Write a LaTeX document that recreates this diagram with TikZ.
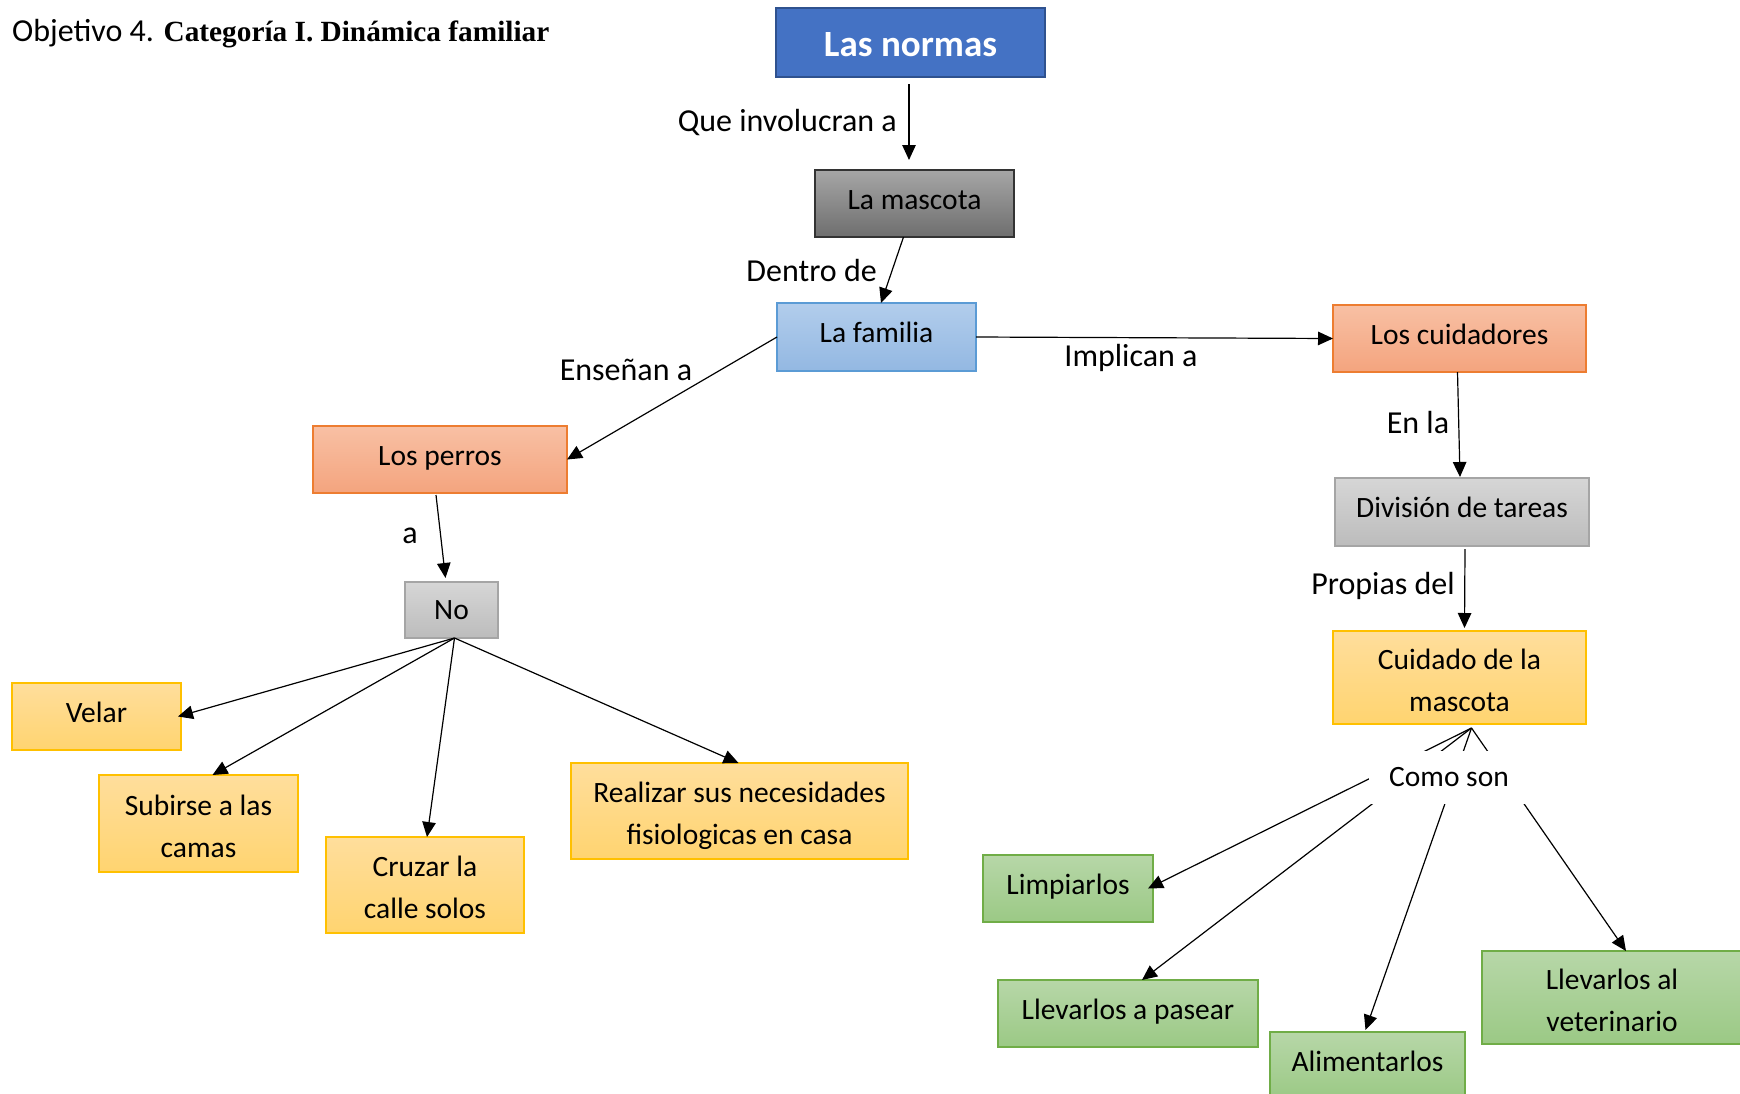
\documentclass[tikz,border=0pt]{standalone}
\usepackage{fontspec}
\setmainfont{Carlito}
\newfontfamily\timesfam{Liberation Serif}
\usetikzlibrary{arrows.meta}
\newcommand\boxfont{\fontsize{29.5}{42}\selectfont}
\newcommand\lblfont{\fontsize{32}{38}\selectfont}
\newcommand\topstrutx{\rule{0pt}{31pt}}
\newcommand\botstrutx{\rule[-6pt]{0pt}{6pt}}
\definecolor{bluefill}{HTML}{4472C4}
\definecolor{blueline}{HTML}{2F528F}
\definecolor{ltbluetop}{HTML}{B2CDEC}
\definecolor{ltbluebot}{HTML}{93B8E2}
\definecolor{ltblueline}{HTML}{5B9BD5}
\definecolor{salmontop}{HTML}{F8C0A4}
\definecolor{salmonbot}{HTML}{F4A47E}
\definecolor{salmonline}{HTML}{ED7D31}
\definecolor{greytop}{HTML}{D6D6D6}
\definecolor{greybot}{HTML}{BCBCBC}
\definecolor{greyline}{HTML}{A5A5A5}
\definecolor{darktop}{HTML}{A6A6A6}
\definecolor{darkbot}{HTML}{6E6E6E}
\definecolor{yeltop}{HTML}{FFDE9C}
\definecolor{yelbot}{HTML}{FFD470}
\definecolor{yelline}{HTML}{FFC000}
\definecolor{greentop}{HTML}{B7D7A8}
\definecolor{greenbot}{HTML}{9BC985}
\definecolor{greenline}{HTML}{70AD47}
\tikzset{
  box/.style={inner sep=0pt, outer sep=0pt, anchor=north west, align=center, font=\boxfont, text=black},
  oneline/.style={text height=17pt, text depth=6pt},
  bluebox/.style={box, fill=bluefill, draw=blueline, line width=2pt, text=white, font=\fontsize{37}{42}\selectfont\bfseries, text height=27.8pt, text depth=0pt},
  darkbox/.style={box, top color=darktop, bottom color=darkbot, draw=black!80, line width=1.3pt},
  ltbluebox/.style={box, top color=ltbluetop, bottom color=ltbluebot, draw=ltblueline, line width=1.3pt},
  salmonbox/.style={box, top color=salmontop, bottom color=salmonbot, draw=salmonline, line width=1.3pt},
  greybox/.style={box, top color=greytop, bottom color=greybot, draw=greyline, line width=1.3pt},
  yelbox/.style={box, top color=yeltop, bottom color=yelbot, draw=yelline, line width=1.3pt},
  greenbox/.style={box, top color=greentop, bottom color=greenbot, draw=greenline, line width=1.3pt},
  lbl/.style={inner sep=0pt, font=\lblfont},
  arr/.style={-{Triangle[length=15pt,width=13.5pt]}, line width=1.2pt}
}
\begin{document}
\begin{tikzpicture}[x=1pt,y=-1pt]
\useasboundingbox (0,0) rectangle (1740,1093);
% title
\node[anchor=base west, inner sep=0pt] (title) at (12,41) {\fontsize{32}{38}\selectfont Objetivo 4. {\timesfam\bfseries\fontsize{29.3}{35}\selectfont Categoría I. Dinámica familiar}};
% boxes
\node[bluebox, minimum width=269pt, minimum height=69pt] (normas) at (776,8) {Las normas};
\node[darkbox, oneline, minimum width=199pt, minimum height=67pt] (mascota) at (815,170) {La mascota};
\node[ltbluebox, oneline, minimum width=199pt, minimum height=68pt] (familia) at (777,303) {La familia};
\node[salmonbox, oneline, minimum width=253pt, minimum height=67pt] (cuidadores) at (1333,305) {Los cuidadores};
\node[salmonbox, oneline, minimum width=254pt, minimum height=67pt] (perros) at (313,426) {Los perros};
\node[greybox, oneline, minimum width=254pt, minimum height=68pt] (division) at (1335,478) {División de tareas};
\node[greybox, text height=18.6pt, text depth=0pt, minimum width=93pt, minimum height=56pt] (no) at (405,582) {No};
\node[yelbox, minimum width=253pt, minimum height=93pt] (cuidado) at (1333,631) {\topstrutx Cuidado de la\\mascota\botstrutx};
\node[yelbox, oneline, minimum width=169pt, minimum height=67pt] (velar) at (12,683) {Velar};
\node[yelbox, minimum width=199pt, minimum height=97pt] (subirse) at (99,775) {\topstrutx Subirse a las\\camas\botstrutx};
\node[yelbox, minimum width=198pt, minimum height=96pt] (cruzar) at (326,837) {\topstrutx Cruzar la\\calle solos\botstrutx};
\node[yelbox, minimum width=337pt, minimum height=96pt] (realizar) at (571,763) {\topstrutx Realizar sus necesidades\\fisiologicas en casa\botstrutx};
\node[greenbox, oneline, minimum width=170pt, minimum height=67pt] (limp) at (983,855) {Limpiarlos};
\node[greenbox, oneline, minimum width=260pt, minimum height=67pt] (pasear) at (998,980) {Llevarlos a pasear};
\node[greenbox, oneline, minimum width=195pt, minimum height=67pt] (alim) at (1270,1032) {Alimentarlos};
\node[greenbox, minimum width=260pt, minimum height=93pt] (vet) at (1482,951) {\topstrutx Llevarlos al\\veterinario\botstrutx};
% connectors
\draw[arr] ([yshift=-7pt,xshift=-1.5pt]normas.south) -- ([yshift=10pt,xshift=-1.5pt]normas.south |- mascota.north);
\draw[arr] ([xshift=-11pt]mascota.south) -- ([xshift=4.5pt]familia.north);
\draw[arr] (familia.east) -- (cuidadores.west);
\draw[arr] ([xshift=-2pt]cuidadores.south) -- ([yshift=1pt,xshift=-2pt]division.north);
\draw[arr] ([xshift=3pt,yshift=-3pt]division.south) -- ([xshift=5pt,yshift=3pt]cuidado.north);
\draw[arr] (familia.west) -- (perros.east);
\draw[arr] ([xshift=-4pt,yshift=-2pt]perros.south) -- ([xshift=-6pt,yshift=4pt]no.north);
\coordinate (noapex) at ([xshift=3pt]no.south);
\draw[arr] (noapex) -- ([xshift=-3pt]velar.east);
\draw[arr] (noapex) -- ([xshift=14pt]subirse.north);
\draw[arr] (noapex) -- ([xshift=2pt]cruzar.north);
\draw[arr] (noapex) -- ([xshift=-1pt]realizar.north);
\coordinate (cuiapex) at ([xshift=12pt,yshift=-4pt]cuidado.south);
\draw[arr] (cuiapex) -- ([xshift=-5pt]limp.east);
\draw[arr] (cuiapex) -- ([xshift=14pt]pasear.north);
\draw[arr] (cuiapex) -- ([xshift=-2pt,yshift=2pt]alim.north);
\draw[arr] (cuiapex) -- ([xshift=14pt]vet.north);
% mask label
\node[fill=white, inner sep=0pt, minimum width=160pt, minimum height=53pt, font=\fontsize{29.5}{36}\selectfont] (como) at (1449,777) {Como son};
% labels
\node[lbl, anchor=east] (l1) at (897,123) {Que involucran a};
\node[lbl, anchor=east] (l2) at (877,271) {Dentro de};
\node[lbl] (l3) at (1131,358) {Implican a};
\node[lbl] (l4) at (626,370) {Enseñan a};
\node[lbl] (l5) at (410,536) {a};
\node[lbl] (l6) at (1418,422) {En la};
\node[lbl] (l7) at (1383,586) {Propias del};
\end{tikzpicture}
\end{document}
